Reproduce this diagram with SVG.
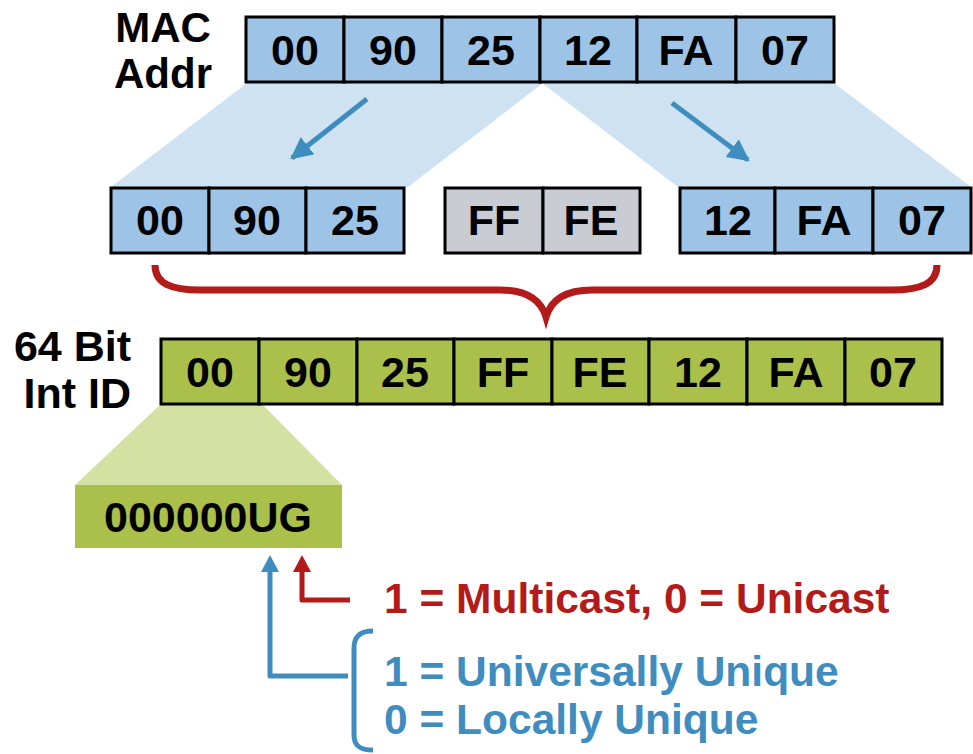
<svg xmlns="http://www.w3.org/2000/svg" width="973" height="754" viewBox="0 0 973 754">
  <style>
    .cell { stroke: #000; stroke-width: 3; }
    .mac { fill: #9DC3E6; }
    .pad { fill: #C9CDD3; }
    .eui { fill: #ABC04B; }
    .val { font-family: "Liberation Sans", Arial, sans-serif; font-weight: bold; font-size: 43px; fill: #000; text-anchor: middle; }
    .lbl { font-family: "Liberation Sans", Arial, sans-serif; font-weight: bold; font-size: 42px; fill: #000; text-anchor: middle; }
    .lbl-r { text-anchor: end; font-size: 43px; }
    .note { font-family: "Liberation Sans", Arial, sans-serif; font-weight: bold; font-size: 42.5px; }
    .red { fill: #B31B1B; }
    .blue { fill: #3F8DBF; }
  </style>
  <defs>
    <marker id="headBlue" viewBox="0 0 10 10" refX="9" refY="5" markerWidth="4.4" markerHeight="4.4" markerUnits="strokeWidth" orient="auto">
      <path d="M0,0 L10,5 L0,10 z" fill="#3F8DBF"/>
    </marker>
  </defs>

  <!-- light fans behind the boxes -->
  <g id="fans">
    <polygon points="247,83 543,83 408,187 111,187" fill="#CFE2F2"/>
    <polygon points="542,83 834,83 971,187 678,187" fill="#CFE2F2"/>
    <polygon points="161,404 262,404 342,485 75,485" fill="#D5E0A3"/>
  </g>

  <!-- labels -->
  <g id="label-mac">
    <text class="lbl" x="163" y="42">MAC</text>
    <text class="lbl" x="163" y="88">Addr</text>
  </g>
  <g id="label-eui">
    <text class="lbl lbl-r" x="131" y="361">64 Bit</text>
    <text class="lbl lbl-r" x="131" y="408">Int ID</text>
  </g>

  <!-- MAC address -->
  <g id="mac-address">
    <rect class="cell mac" x="246" y="17" width="98" height="65"/>
    <rect class="cell mac" x="344" y="17" width="98" height="65"/>
    <rect class="cell mac" x="442" y="17" width="98" height="65"/>
    <rect class="cell mac" x="540" y="17" width="97" height="65"/>
    <rect class="cell mac" x="637" y="17" width="99" height="65"/>
    <rect class="cell mac" x="736" y="17" width="98" height="65"/>
    <text class="val" x="295" y="65">00</text>
    <text class="val" x="393" y="65">90</text>
    <text class="val" x="491" y="65">25</text>
    <text class="val" x="588" y="65">12</text>
    <text class="val" x="686" y="65">FA</text>
    <text class="val" x="785" y="65">07</text>
  </g>

  <!-- split halves and inserted FFFE -->
  <g id="oui-half">
    <rect class="cell mac" x="111" y="188" width="98" height="65"/>
    <rect class="cell mac" x="209" y="188" width="97" height="65"/>
    <rect class="cell mac" x="306" y="188" width="98" height="65"/>
    <text class="val" x="160" y="235">00</text>
    <text class="val" x="257" y="235">90</text>
    <text class="val" x="355" y="235">25</text>
  </g>
  <g id="fffe">
    <rect class="cell pad" x="445" y="188" width="98" height="65"/>
    <rect class="cell pad" x="543" y="188" width="97" height="65"/>
    <text class="val" x="494" y="235">FF</text>
    <text class="val" x="591" y="235">FE</text>
  </g>
  <g id="nic-half">
    <rect class="cell mac" x="680" y="188" width="95" height="65"/>
    <rect class="cell mac" x="775" y="188" width="98" height="65"/>
    <rect class="cell mac" x="873" y="188" width="98" height="65"/>
    <text class="val" x="728" y="235">12</text>
    <text class="val" x="824" y="235">FA</text>
    <text class="val" x="922" y="235">07</text>
  </g>

  <!-- 64-bit interface ID -->
  <g id="interface-id">
    <rect class="cell eui" x="161" y="339" width="98" height="65"/>
    <rect class="cell eui" x="259" y="339" width="98" height="65"/>
    <rect class="cell eui" x="357" y="339" width="97" height="65"/>
    <rect class="cell eui" x="454" y="339" width="98" height="65"/>
    <rect class="cell eui" x="552" y="339" width="97" height="65"/>
    <rect class="cell eui" x="649" y="339" width="98" height="65"/>
    <rect class="cell eui" x="747" y="339" width="98" height="65"/>
    <rect class="cell eui" x="845" y="339" width="97" height="65"/>
    <text class="val" x="210" y="387">00</text>
    <text class="val" x="308" y="387">90</text>
    <text class="val" x="405" y="387">25</text>
    <text class="val" x="503" y="387">FF</text>
    <text class="val" x="600" y="387">FE</text>
    <text class="val" x="698" y="387">12</text>
    <text class="val" x="796" y="387">FA</text>
    <text class="val" x="893" y="387">07</text>
  </g>

  <!-- first byte bits -->
  <g id="first-byte">
    <rect x="75" y="485" width="267" height="63" fill="#ABC04B"/>
    <text class="val" x="208" y="532">000000UG</text>
  </g>

  <!-- bit meanings -->
  <g id="g-bit-note">
    <text class="note red" x="384" y="613">1 = Multicast, 0 = Unicast</text>
  </g>
  <g id="u-bit-note">
    <text class="note blue" x="384" y="686">1 = Universally Unique</text>
    <text class="note blue" x="384" y="734">0 = Locally Unique</text>
  </g>

  <!-- connectors -->
  <g id="connectors" fill="none">
    <line x1="367" y1="99" x2="292" y2="158" stroke="#3F8DBF" stroke-width="5" marker-end="url(#headBlue)"/>
    <line x1="672" y1="103" x2="748" y2="160" stroke="#3F8DBF" stroke-width="5" marker-end="url(#headBlue)"/>
    <path d="M155,265 C155,284 172,290 200,290 L500,290 C527,290 541,300 546,317 C551,300 565,290 592,290 L892,290 C920,290 937,284 937,265" stroke="#B31B1B" stroke-width="7"/>
    <!-- U bit -->
    <polyline points="348,676 270,676 270,570" stroke="#3F8DBF" stroke-width="5" stroke-linejoin="round"/>
    <polygon points="270,555 279,572 261,572" fill="#3F8DBF"/>
    <path d="M373,631 C360,631 354,636 354,648 L354,735 C354,746 360,750 373,750" stroke="#3F8DBF" stroke-width="5"/>
    <!-- G bit -->
    <polyline points="350,600 302,600 302,570" stroke="#B31B1B" stroke-width="5" stroke-linejoin="round"/>
    <polygon points="302,555 311,572 293,572" fill="#B31B1B"/>
  </g>
</svg>
